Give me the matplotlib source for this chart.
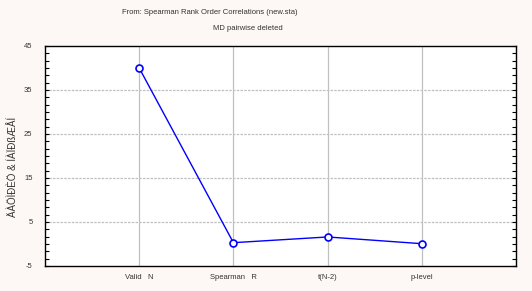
import matplotlib
matplotlib.use("Agg")
import matplotlib.pyplot as plt
from matplotlib.ticker import MultipleLocator

categories = ["Valid   N", "Spearman   R", "t(N-2)", "p-level"]
values = [40.0, 0.3, 1.6, 0.07]
yticks = [-5, 5, 15, 25, 35, 45]
ylabel = "ÄÀÖÌÐÈÖ & ÍÀÏÐßÆÅÍ"
title1 = "From: Spearman Rank Order Correlations (new.sta)"
title2 = "MD pairwise deleted"

fam = ["Liberation Sans Narrow", "Liberation Sans", "DejaVu Sans"]
plt.rcParams["font.family"] = fam

W, H = 532, 291
fig = plt.figure(figsize=(W / 100, H / 100), dpi=100)
fig.patch.set_facecolor("#fdf8f5")
ax = fig.add_axes([45 / W, (H - 266) / H, 471 / W, 220 / H])
ax.set_facecolor("white")

x = list(range(1, len(categories) + 1))
ax.plot(x, values, color="#0000ff", lw=1, marker="o", ms=5,
        mfc="white", mec="#0000ff", mew=1.2, zorder=3)

ax.set_xlim(0, 5)
ax.set_ylim(-5, 45)
ax.set_xticks(x)
ax.set_xticklabels(categories, fontsize=5.5, color="#333333")
ax.set_yticks(yticks)
ax.set_yticklabels([str(v) for v in yticks], fontsize=5.5, color="#333333")
ax.yaxis.set_minor_locator(MultipleLocator(10 / 6))
ax.tick_params(axis="y", which="both", direction="in", length=3, width=0.8,
               right=True, left=True, pad=9)
ax.tick_params(axis="x", direction="in", length=0, pad=6)

for yv in [5, 15, 25, 35]:
    ax.axhline(yv, color="#c0c0c0", lw=0.9, ls=(0, (2, 1)), zorder=1)
for xv in x:
    ax.axvline(xv, color="#c0c0c0", lw=0.9, zorder=1)

for s in ax.spines.values():
    s.set_color("black")
    s.set_linewidth(1)

ax.set_ylabel(ylabel, fontsize=7, color="#333333")
ax.yaxis.set_label_coords(-0.058, 0.45)
fig.text(210 / W, 1 - 12 / H, title1, ha="center", va="center", fontsize=5.5, color="#333333")
fig.text(248 / W, 1 - 28 / H, title2, ha="center", va="center", fontsize=5.5, color="#333333")

fig.savefig("out.png", dpi=100, facecolor=fig.get_facecolor())
